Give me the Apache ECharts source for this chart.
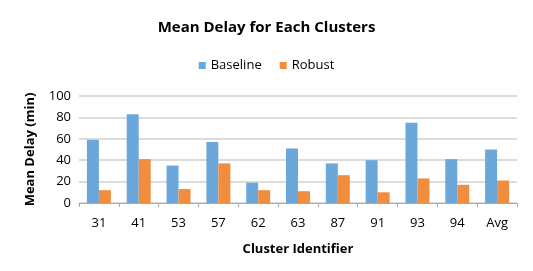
<!DOCTYPE html>
<html><head><meta charset="utf-8">
<script src="https://cdn.jsdelivr.net/npm/echarts@6/dist/echarts.min.js"></script>
<style>html,body{margin:0;padding:0;background:#fff}#c{width:533px;height:271px}</style>
</head><body><div id="c"></div>
<script>
var categories = ['31','41','53','57','62','63','87','91','93','94','Avg'];
var baseline = [59, 83, 35, 57, 19, 51, 37, 40, 75, 41, 50];
var robust = [12, 41, 13, 37, 12, 11, 26, 10, 23, 17, 21];
var yTicks = [0, 20, 40, 60, 80, 100];

var font = 'Open Sans, Liberation Sans, sans-serif';
var chart = echarts.init(document.getElementById('c'));
chart.setOption({
  animation: false,
  textStyle: {fontFamily: font},
  title: {text: 'Mean Delay for Each Clusters', left: 'center', top: 15,
    textStyle: {fontSize: 15, fontWeight: 'bold', color: '#000', fontFamily: font}},
  legend: {top: 54, left: 'center', itemWidth: 7, itemHeight: 7, itemGap: 18,
    icon: 'rect', textStyle: {fontSize: 13, color: '#000', fontFamily: font},
    data: ['Baseline', 'Robust']},
  grid: {left: 79, right: 16, top: 96, bottom: 68},
  xAxis: {type: 'category', data: categories,
    name: 'Cluster Identifier', nameLocation: 'middle', nameGap: 40,
    nameTextStyle: {fontSize: 13, fontWeight: 'bold', color: '#000'},
    axisLine: {lineStyle: {color: '#aaaaaa'}},
    axisTick: {show: true, length: 4, lineStyle: {color: '#aaaaaa'}},
    axisLabel: {fontSize: 13, color: '#000', margin: 14}},
  yAxis: {type: 'value', min: yTicks[0], max: yTicks[yTicks.length-1], interval: 20,
    name: 'Mean Delay (min)', nameLocation: 'middle', nameGap: 42,
    nameTextStyle: {fontSize: 13, fontWeight: 'bold', color: '#000'},
    axisLine: {show: false}, axisTick: {show: false},
    axisLabel: {fontSize: 13, color: '#000', margin: 8},
    splitLine: {lineStyle: {color: '#d0d0d0', width: 1.5}}},
  series: [
    {name: 'Baseline', type: 'bar', data: baseline, barWidth: 12, barGap: '0%',
     itemStyle: {color: '#6ca7dc'}},
    {name: 'Robust', type: 'bar', data: robust, barWidth: 12,
     itemStyle: {color: '#f18d3f'}}
  ]
});
</script></body></html>
